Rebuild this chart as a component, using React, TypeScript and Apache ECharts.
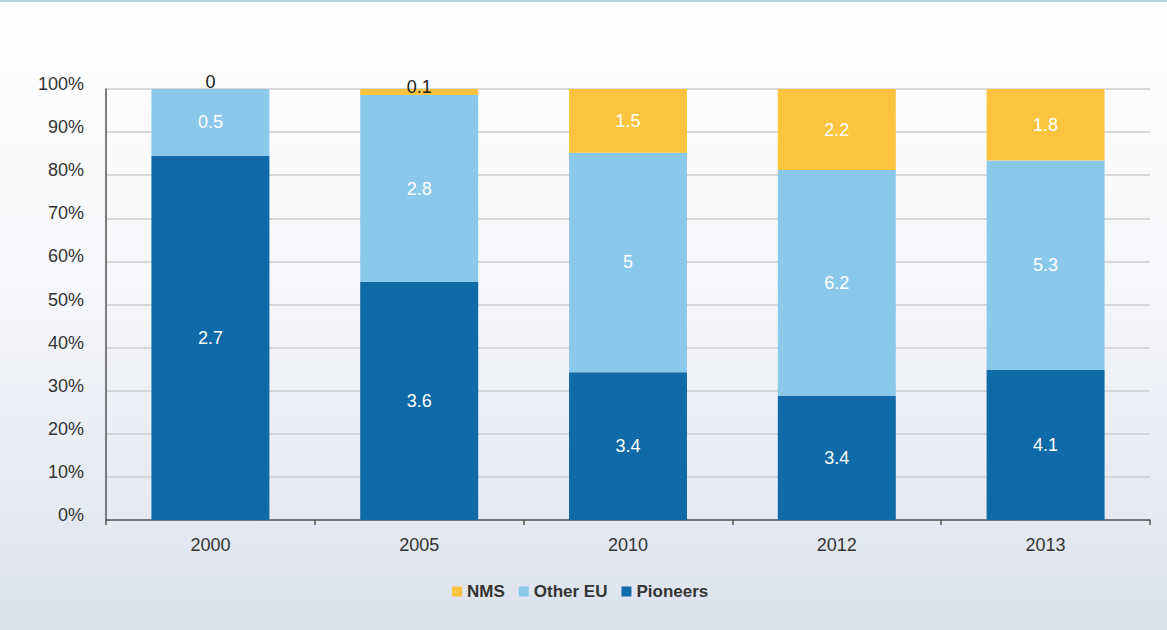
import React, { useEffect, useRef } from "react";
import * as echarts from "echarts";

const categories = ["2000", "2005", "2010", "2012", "2013"];
// values shown as labels
const pioneersLabel = [2.7, 3.6, 3.4, 3.4, 4.1];
const otherEULabel = [0.5, 2.8, 5, 6.2, 5.3];
const nmsLabel = [0, 0.1, 1.5, 2.2, 1.8];
// shares (%)
const pioneersPct = [84.5, 55.2, 34.3, 28.8, 34.8];
const otherEUPct = [15.5, 43.4, 50.9, 52.4, 48.6];
const nmsPct = [0, 1.4, 14.8, 18.8, 16.6];
const yTicks = [0, 10, 20, 30, 40, 50, 60, 70, 80, 90, 100];

const colors = { nms: "#fcc33f", other: "#8bc9eb", pioneers: "#0f6aa7" };
const FONT = "Liberation Sans, Arial, sans-serif";

export default function App() {
  const ref = useRef<HTMLDivElement>(null);
  useEffect(() => {
    document.body.style.margin = "0";
    const chart = echarts.init(ref.current!, null, { renderer: "svg" });
    const mk = (pct: number[], lab: number[]) =>
      pct.map((v, i) => ({ value: v, raw: lab[i] }));
    const insideLabel = {
      show: true,
      position: "inside",
      color: "#ffffff",
      fontSize: 18,
      fontFamily: FONT,
      formatter: (p: any) => String(p.data.raw),
    };
    const nmsData = mk(nmsPct, nmsLabel).map((d, i) => {
      if (nmsPct[i] === 0) {
        return { ...d, label: { position: "top", distance: -2, color: "#222" } };
      }
      if (nmsPct[i] < 3) {
        return { ...d, label: { position: "inside", offset: [0, -5], color: "#222" } };
      }
      return d;
    });
    chart.setOption({
      animation: false,
      backgroundColor: {
        type: "linear",
        x: 0, y: 0, x2: 0, y2: 1,
        colorStops: [
          { offset: 0, color: "#ffffff" },
          { offset: 0.45, color: "#f6f7fa" },
          { offset: 1, color: "#dce2ee" },
        ],
      },
      graphic: [
        { type: "rect", left: 0, top: 0, shape: { width: 1167, height: 2 }, style: { fill: "#b7cde7" } },
      ],
      grid: { left: 106, right: 17, top: 89, bottom: 110 },
      legend: {
        data: ["NMS", "Other EU", "Pioneers"],
        left: 447,
        top: 578,
        icon: "rect",
        itemWidth: 10,
        itemHeight: 10,
        itemGap: 14,
        textStyle: { fontSize: 17, fontWeight: "bold", color: "#333", fontFamily: FONT },
      },
      xAxis: {
        type: "category",
        data: categories,
        axisLine: { lineStyle: { color: "#555", width: 1.5 } },
        axisTick: { show: true, length: 5, lineStyle: { color: "#555", width: 1.5 } },
        axisLabel: { color: "#333", fontSize: 18, fontFamily: FONT, margin: 16 },
      },
      yAxis: {
        type: "value",
        min: 0,
        max: 100,
        interval: 10,
        axisLine: { show: true, lineStyle: { color: "#555", width: 1.5 } },
        axisTick: { show: false },
        axisLabel: {
          color: "#333",
          fontSize: 18,
          fontFamily: FONT,
          margin: 22,
          verticalAlign: "bottom",
          lineHeight: 10,
          formatter: (v: number) => (yTicks.includes(v) ? v + "%" : ""),
        },
        splitLine: { lineStyle: { color: "#cccccc", width: 1.5 } },
      },
      series: [
        {
          name: "Pioneers",
          type: "bar",
          stack: "a",
          barWidth: "56.5%",
          itemStyle: { color: colors.pioneers },
          label: insideLabel,
          data: mk(pioneersPct, pioneersLabel),
        },
        {
          name: "Other EU",
          type: "bar",
          stack: "a",
          itemStyle: { color: colors.other },
          label: insideLabel,
          data: mk(otherEUPct, otherEULabel),
        },
        {
          name: "NMS",
          type: "bar",
          stack: "a",
          itemStyle: { color: colors.nms },
          label: insideLabel,
          data: nmsData,
        },
      ],
    });
    return () => chart.dispose();
  }, []);
  return <div ref={ref} style={{ width: 1167, height: 630 }} />;
}
